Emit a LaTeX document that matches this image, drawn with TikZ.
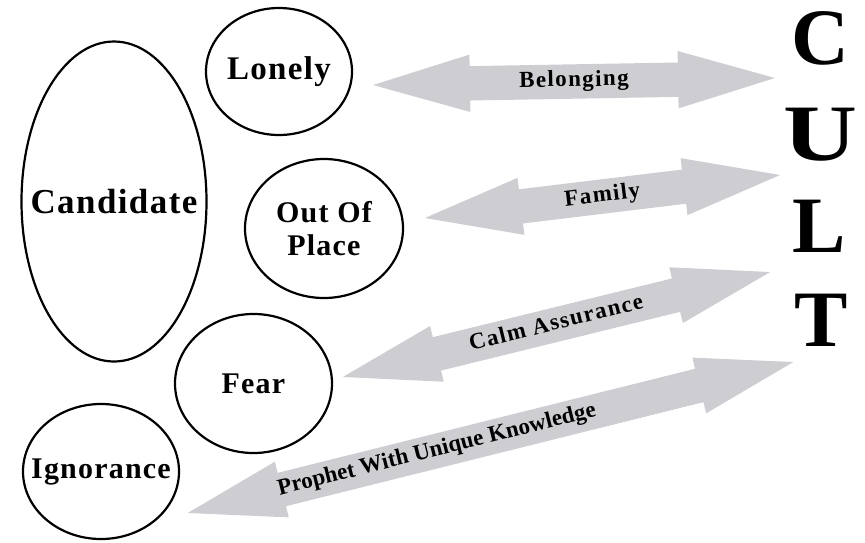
\documentclass[tikz,border=0pt]{standalone}
\usepackage{fontspec}
\setmainfont{Liberation Serif}
\newfontfamily\lblfont[LetterSpace=4]{Liberation Serif}
\newfontfamily\arrfont[LetterSpace=6]{Liberation Serif}
\usetikzlibrary{shapes.geometric,shapes.arrows}
\definecolor{arrowgray}{RGB}{206,205,210}
\tikzset{
  oval/.style={draw=black, line width=2.2pt, ellipse, inner sep=0pt},
  ovaltext/.style={font=\lblfont\bfseries\fontsize{30}{33}\selectfont, align=center, inner sep=0pt},
  bigarrow/.style={double arrow, fill=arrowgray, draw=none, inner xsep=0pt, inner ysep=7pt,
    text height=15pt, text depth=5pt, minimum width=57pt,
    double arrow head extend=11.5pt, double arrow tip angle=33,
    font=\arrfont\bfseries\fontsize{23}{25}\selectfont},
  cultletter/.style={inner sep=0pt, font=\bfseries\fontsize{80}{80}\selectfont}
}
\begin{document}
\begin{tikzpicture}[x=1pt,y=-1pt]
\useasboundingbox (0,0) rectangle (865,542);
% arrows
\node[bigarrow, minimum height=402pt, rotate=1] (belong) at (574,81.5) {Belonging};
\node[bigarrow, minimum height=358pt, rotate=6.9] (family) at (602.5,196.5) {Family};
\node[bigarrow, minimum height=440pt, rotate=13.8] (calm) at (556.5,324.5) {Calm Assurance};
\node[bigarrow, minimum height=624pt, rotate=14, font=\bfseries\fontsize{23}{25}\selectfont] (prophet) at (490.5,437.5) {Prophet With Unique Knowledge\hspace*{110pt}};
% ovals
\node[oval, minimum width=185pt, minimum height=320pt,
  label={[ovaltext, font=\lblfont\bfseries\fontsize{35}{38}\selectfont]center:Candidate}] (cand) at (114,201.5) {};
\node[oval, minimum width=146pt, minimum height=127pt,
  label={[ovaltext, font=\lblfont\bfseries\fontsize{33}{36}\selectfont]center:Lonely}] (lonely) at (279,71.5) {};
\node[oval, minimum width=158pt, minimum height=139pt,
  label={[ovaltext]center:Out Of\\Place}] (place) at (324,228.5) {};
\node[oval, minimum width=157pt, minimum height=139pt,
  label={[ovaltext]center:Fear}] (fear) at (253.5,383.5) {};
\node[oval, minimum width=156pt, minimum height=135pt,
  label={[ovaltext]center:Ignorance}] (ignor) at (101,471.5) {};
% CULT
\node[cultletter] (c) at (820.5,38.5) {C};
\node[cultletter] (u) at (820.5,134.5) {\scalebox{1.28}[1]{U}};
\node[cultletter] (l) at (819.5,226.5) {L};
\node[cultletter] (t) at (821.5,320) {T};
\end{tikzpicture}
\end{document}
